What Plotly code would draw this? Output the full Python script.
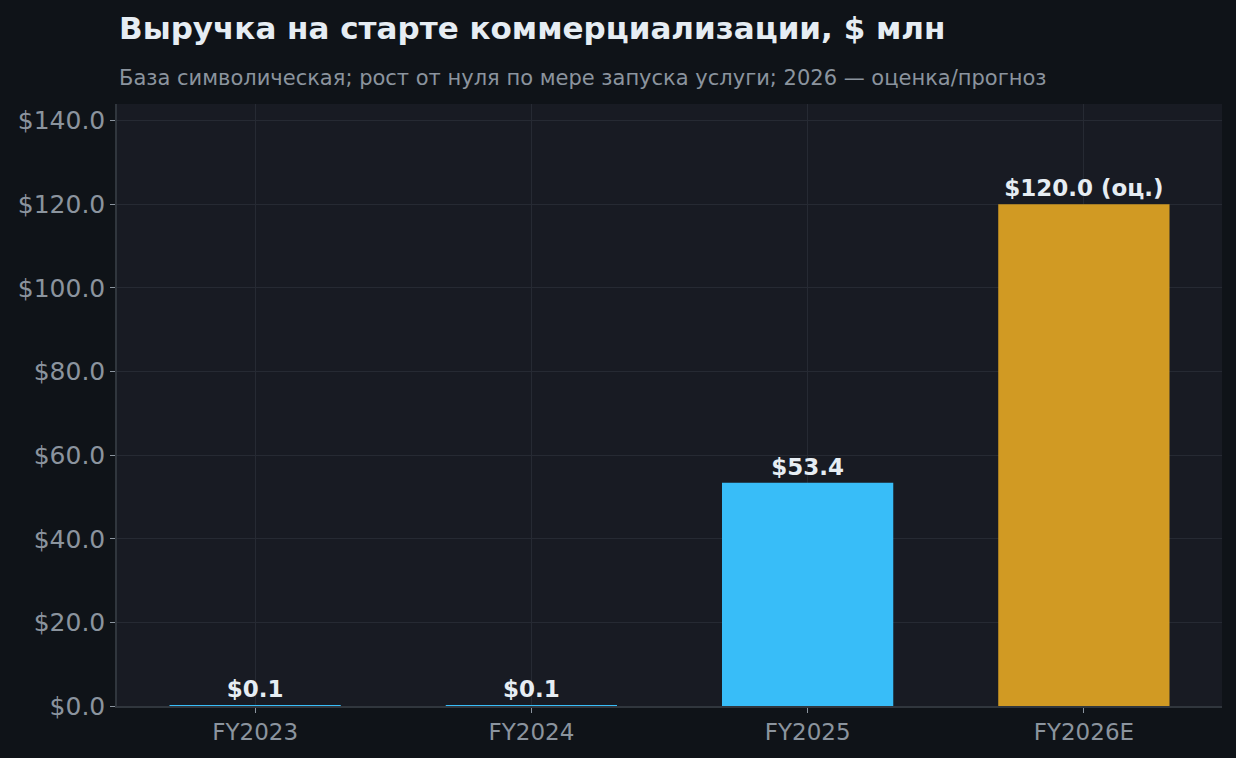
import plotly.graph_objects as go

# Data
years = ["FY2023", "FY2024", "FY2025", "FY2026E"]
revenue = [0.1, 0.1, 53.4, 120.0]
label_suffix = ["", "", "", " (оц.)"]
bar_colors = ["#38bdf8", "#38bdf8", "#38bdf8", "#d19a23"]
y_ticks = [0, 20, 40, 60, 80, 100, 120, 140]

title = "Выручка на старте коммерциализации, $ млн"
subtitle = "База символическая; рост от нуля по мере запуска услуги; 2026 — оценка/прогноз"

font_family = "DejaVu Sans"
labels = [f"${v:.1f}{s}" for v, s in zip(revenue, label_suffix)]

fig = go.Figure()

fig.add_trace(go.Bar(
    x=years,
    y=revenue,
    marker=dict(color=bar_colors, line=dict(width=0)),
    width=0.62,
    text=labels,
    textposition="outside",
    textfont=dict(family=font_family, size=23, color="#e6edf3", weight="bold"),
    constraintext="none",
    cliponaxis=False,
    hoverinfo="x+y",
))

fig.update_layout(
    width=1236,
    height=758,
    paper_bgcolor="#0f1318",
    plot_bgcolor="#181b23",
    margin=dict(l=117, r=14, t=104, b=52),
    showlegend=False,
    font=dict(family=font_family, color="#8b949e"),
    annotations=[
        dict(text=f"<b>{title}</b>", xref="paper", yref="paper", x=0.0, y=1.127,
             xanchor="left", yanchor="middle", showarrow=False,
             font=dict(family=font_family, size=31, color="#e6edf3")),
        dict(text=subtitle, xref="paper", yref="paper", x=0.0, y=1.044,
             xanchor="left", yanchor="middle", showarrow=False,
             font=dict(family=font_family, size=21, color="#8b949e")),
    ],
)

fig.update_xaxes(
    range=[-0.5, 3.5],
    showgrid=True, gridcolor="#262a33", gridwidth=1,
    showline=True, linecolor="#30363d", linewidth=1.5,
    ticks="outside", ticklen=5, tickcolor="#8b949e",
    tickfont=dict(family=font_family, size=23, color="#8b949e"),
)
fig.update_yaxes(
    range=[0, 144],
    tickvals=y_ticks,
    ticktext=[f"${v:.1f}" for v in y_ticks],
    showgrid=True, gridcolor="#262a33", gridwidth=1,
    zeroline=False,
    showline=True, linecolor="#30363d", linewidth=1.5,
    ticks="outside", ticklen=5, tickcolor="#8b949e",
    tickfont=dict(family=font_family, size=25, color="#8b949e"),
)

fig.write_html("out.html", config={"displayModeBar": False},
               post_script="document.body.style.margin='0px';")
